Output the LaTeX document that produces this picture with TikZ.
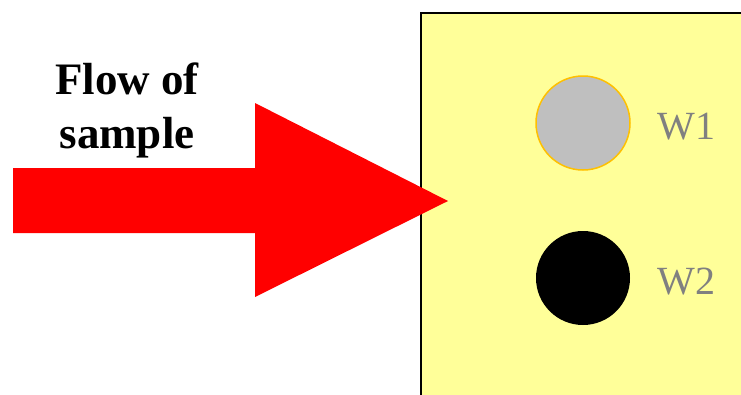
\documentclass[tikz,border=0pt]{standalone}
\usepackage{fontspec}
\setmainfont{Liberation Serif}
\usetikzlibrary{positioning}
\definecolor{chipyellow}{HTML}{FFFF99}
\definecolor{ringgold}{HTML}{FFC000}
\definecolor{labelgray}{HTML}{808080}
\tikzset{
  well/.style={circle,minimum size=94pt,inner sep=0pt},
  welllabel/.style={inner sep=0pt,text=labelgray,font=\fontsize{40}{44}\selectfont}
}

\begin{document}
\begin{tikzpicture}[x=1pt,y=-1pt]
  \clip (0,0) rectangle (741,394);
  \draw[fill=chipyellow,line width=2pt] (421,13) rectangle (760,410);
  \node[well,fill=gray!50,draw=ringgold,line width=1.5pt] (w1) at (583,123) {};
  \node[well,fill=black] (w2) at (583,278) {};
  \node[welllabel,right=27pt of w1,yshift=-4pt] (w1lbl) {W1};
  \node[welllabel,right=27pt of w2,yshift=-4pt] (w2lbl) {W2};
  \fill[red] (13,168) -- (255,168) -- (255,103) -- (448,201)
    -- (255,297) -- (255,233) -- (13,233) -- cycle;
  \node[inner sep=0pt,align=center,font=\bfseries\fontsize{45}{54}\selectfont]
    (flow) at (127,110) {Flow of\\sample};
\end{tikzpicture}
\end{document}
